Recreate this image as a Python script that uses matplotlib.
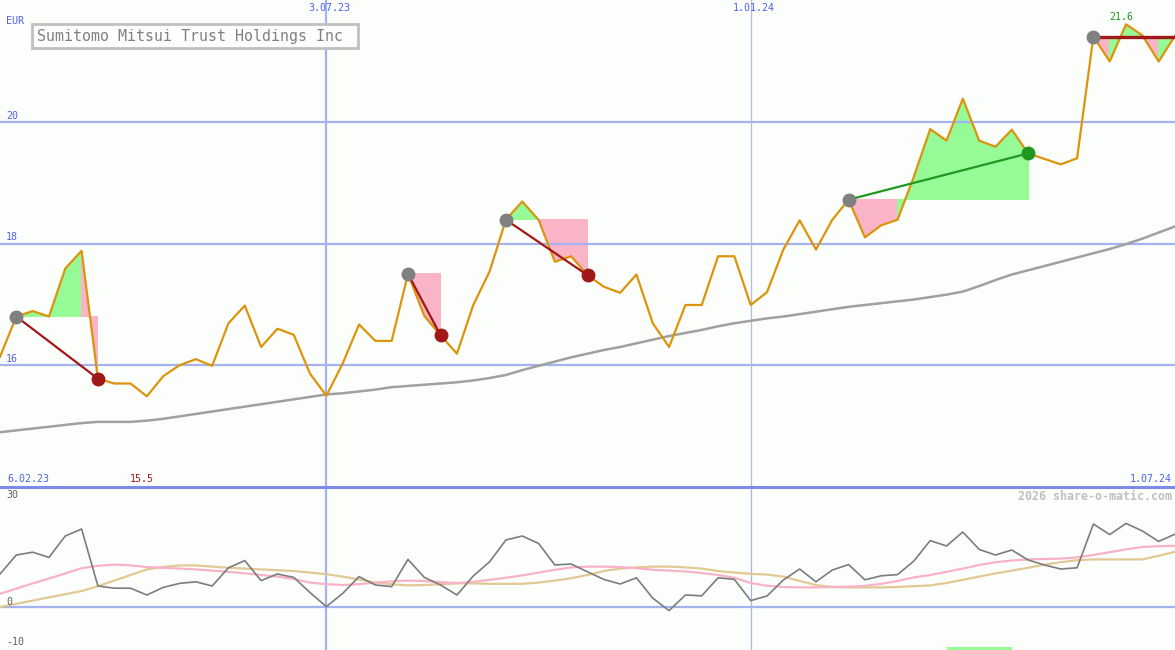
import matplotlib
matplotlib.use("Agg")
import matplotlib.pyplot as plt
from matplotlib.patches import Polygon, Rectangle

# ---------------- data ----------------
title = "Sumitomo Mitsui Trust Holdings Inc"
currency = "EUR"
start_label = "6.02.23"
end_label = "1.07.24"
vline_idx = [20, 46]
vline_labels = ["3.07.23", "1.01.24"]
price_ticks = [16, 18, 20]
osc_tick_labels = [30, 0, -10]
watermark = "2026 share-o-matic.com"

price = [16.14, 16.80, 16.89, 16.80, 17.59, 17.88, 15.78, 15.70, 15.70, 15.49,
         15.82, 16.00, 16.10, 15.99, 16.69, 16.98, 16.30, 16.60, 16.50, 15.86,
         15.50, 16.03, 16.67, 16.40, 16.40, 17.50, 16.81, 16.49, 16.19, 16.99,
         17.54, 18.39, 18.69, 18.39, 17.70, 17.79, 17.48, 17.29, 17.19, 17.49,
         16.69, 16.30, 16.99, 16.99, 17.79, 17.79, 16.99, 17.20, 17.90, 18.38,
         17.90, 18.39, 18.72, 18.10, 18.30, 18.39, 19.10, 19.88, 19.69, 20.38,
         19.69, 19.59, 19.87, 19.48, 19.39, 19.30, 19.40, 21.40, 20.99, 21.60,
         21.42, 20.99, 21.41]

ma_long = [14.90, 14.93, 14.96, 14.99, 15.02, 15.05, 15.07, 15.07, 15.07, 15.09,
           15.12, 15.16, 15.20, 15.24, 15.28, 15.32, 15.36, 15.40, 15.44, 15.48,
           15.52, 15.54, 15.57, 15.60, 15.64, 15.66, 15.68, 15.70, 15.72, 15.75,
           15.79, 15.84, 15.92, 15.99, 16.06, 16.13, 16.19, 16.25, 16.30, 16.36,
           16.42, 16.48, 16.53, 16.58, 16.64, 16.69, 16.73, 16.77, 16.80, 16.84,
           16.88, 16.92, 16.96, 16.99, 17.02, 17.05, 17.08, 17.12, 17.16, 17.21,
           17.30, 17.40, 17.49, 17.56, 17.63, 17.70, 17.77, 17.84, 17.91, 17.99,
           18.08, 18.18, 18.28]

osc = [8.25, 13.0, 13.7, 12.4, 17.75, 19.5, 5.25, 4.7, 4.7, 3.0,
       4.9, 5.9, 6.3, 5.25, 9.8, 11.6, 6.6, 8.25, 7.4, 3.6,
       0.1, 3.4, 7.6, 5.5, 5.1, 11.9, 7.4, 5.5, 3.0, 7.75,
       11.3, 16.75, 17.75, 15.9, 10.5, 10.75, 8.8, 6.9, 5.75, 7.3,
       2.2, -0.9, 3.0, 2.8, 7.3, 6.9, 1.6, 2.75, 6.75, 9.5,
       6.3, 9.25, 10.6, 6.8, 7.8, 8.1, 11.5, 16.6, 15.25, 18.75,
       14.4, 13.0, 14.25, 11.75, 10.5, 9.5, 9.8, 20.75, 18.1, 20.9,
       19.0, 16.4, 18.2]

osc_avg_fast = [3.3, 4.6, 5.9, 7.1, 8.4, 9.7, 10.3, 10.6, 10.4, 10.0,
                9.8, 9.6, 9.4, 9.1, 8.8, 8.4, 8.0, 7.6, 7.0, 6.1,
                5.7, 5.5, 5.7, 6.1, 6.4, 6.6, 6.5, 6.2, 6.0, 6.3,
                6.8, 7.3, 7.9, 8.6, 9.3, 9.9, 10.1, 10.1, 10.0, 9.7,
                9.3, 9.1, 8.9, 8.5, 8.0, 7.3, 6.0, 5.3, 5.0, 4.9,
                4.9, 5.0, 5.1, 5.3, 5.8, 6.5, 7.4, 8.0, 8.8, 9.6,
                10.5, 11.2, 11.6, 11.9, 12.0, 12.1, 12.4, 13.0, 13.7, 14.4,
                15.0, 15.2, 15.3]

osc_avg_slow = [0.0, 0.8, 1.6, 2.4, 3.2, 4.0, 5.2, 6.6, 8.0, 9.4,
                10.0, 10.4, 10.4, 10.1, 9.8, 9.6, 9.4, 9.2, 9.0, 8.6,
                8.2, 7.6, 6.9, 6.1, 5.7, 5.4, 5.5, 5.7, 5.9, 5.9,
                5.8, 5.8, 5.8, 6.1, 6.6, 7.2, 8.0, 9.0, 9.6, 9.9,
                10.1, 10.1, 9.9, 9.6, 9.0, 8.6, 8.3, 8.1, 7.6, 6.5,
                5.5, 5.0, 4.9, 4.9, 4.9, 5.0, 5.2, 5.4, 6.0, 6.8,
                7.6, 8.4, 9.1, 9.8, 10.6, 11.2, 11.7, 11.9, 11.9, 11.9,
                11.9, 12.8, 13.8]

entry_idx = [1, 25, 31, 52, 67]
exit_idx = [6, 27, 36, 63, 72]
trade_open = [False, False, False, False, True]
signal_start = 58
signal_end = 62

# ---------------- style ----------------
W, H = 1175, 650
SPLIT = 487
BG = "#fcfefc"
BLUE_TXT = "#5060f0"
GRID = "#a4b2f0"
SEP = "#7c8ae8"
ORANGE = "#dc940c"
GRAYMA = "#a0a0a0"
GREEN_FILL = "#96fa96"
PINK_FILL = "#fab4c8"
LOSS = "#a01818"
WIN = "#209820"
MONO = "DejaVu Sans Mono"

fig = plt.figure(figsize=(W / 100, H / 100), dpi=100)
fig.patch.set_facecolor(BG)

ax = fig.add_axes([0, (H - SPLIT) / H, 1, SPLIT / H])
ax2 = fig.add_axes([0, 0, 1, (H - SPLIT) / H])
for a in (ax, ax2):
    a.set_facecolor(BG)
    a.set_axis_off()
    a.set_xlim(0, 72)

ax.set_ylim(14.0, 22.0)
ax2.set_ylim(-10.75, 30)

x = list(range(len(price)))

# grid lines
for v in price_ticks:
    ax.axhline(v, color=GRID, lw=1.6, zorder=2)
    ax.annotate(str(v), xy=(0, v), xytext=(6, 6), textcoords="offset pixels",
                ha="left", va="center", color=BLUE_TXT, fontsize=7.2, family=MONO)
ax.axvline(vline_idx[0], color=GRID, lw=1.6, zorder=2)
ax.axvline(vline_idx[1], color="#b4bcd8", lw=0.9, zorder=2)
ax2.axvline(vline_idx[0], color=GRID, lw=1.6, zorder=2)
ax2.axvline(vline_idx[1], color="#a8b4f0", lw=0.9, zorder=2)
ax2.axhline(0, color=GRID, lw=1.6, zorder=2)

# trade fills
for e, xx in zip(entry_idx, exit_idx):
    ep = price[e]
    for i in range(e, xx):
        col = GREEN_FILL if price[i + 1] >= ep else PINK_FILL
        poly = Polygon([(i, ep), (i, price[i]), (i + 1, price[i + 1]), (i + 1, ep)],
                       closed=True, facecolor=col, edgecolor="none",
                       antialiased=False, zorder=1)
        ax.add_patch(poly)

# lines
ax.plot(x, ma_long, color=GRAYMA, lw=1.8, zorder=3)
ax.plot(x, price, color=ORANGE, lw=1.6, zorder=4)

# trade lines and dots
for e, xx, op in zip(entry_idx, exit_idx, trade_open):
    ep, xp = price[e], price[xx]
    if op:
        ax.plot([e, xx], [ep, ep], color=LOSS, lw=2.4, zorder=5, solid_capstyle="butt")
        ax.plot([e], [ep], "o", color="#808080", ms=9, zorder=6)
        continue
    col = WIN if xp > ep else LOSS
    ax.plot([e, xx], [ep, xp], color=col, lw=1.6, zorder=5)
    ax.plot([e], [ep], "o", color="#808080", ms=9, zorder=6)
    ax.plot([xx], [xp], "o", color=col, ms=9, zorder=6)

# min / max labels
imax = max(range(len(price)), key=lambda i: price[i])
imin = min(range(len(price)), key=lambda i: price[i])
ax.annotate(f"{price[imax]:.1f}", xy=(imax, price[imax]), xytext=(-5, 2),
            textcoords="offset pixels", ha="center", va="bottom",
            color=WIN, fontsize=7.2, family=MONO, zorder=7)
ax.annotate(f"{price[imin]:.1f}", xy=(imin, 14.0), xytext=(-5, 3),
            textcoords="offset pixels", ha="center", va="bottom",
            color=LOSS, fontsize=7.2, family=MONO)

# lower panel
ax2.plot(x, osc_avg_slow, color="#e2c994", lw=1.6, zorder=3)
ax2.plot(x, osc_avg_fast, color="#f8b2c8", lw=1.6, zorder=3)
ax2.plot(x, osc, color="#7c7c7c", lw=1.2, zorder=4)
ax2.add_patch(Rectangle((signal_start, -10.75), signal_end - signal_start, 0.85,
                        facecolor=GREEN_FILL, edgecolor="none", zorder=2))
label_offsets = {30: -8, 0: 5, -10: 5}
for v in osc_tick_labels:
    ax2.annotate(str(v), xy=(0, v), xytext=(6, label_offsets[v]), textcoords="offset pixels",
                 ha="left", va="center", color="#606060", fontsize=7.2, family=MONO)


def fpx(px, py):
    return px / W, 1 - py / H


# separator line
fig.add_artist(plt.Line2D([0, 1], [1 - SPLIT / H, 1 - SPLIT / H],
                          transform=fig.transFigure, color=SEP, lw=2.2, zorder=10))

# date labels
for idx, lab in zip(vline_idx, vline_labels):
    ax.annotate(lab, xy=(idx, 22.0), xytext=(3, -3), textcoords="offset pixels",
                ha="center", va="top", color=BLUE_TXT, fontsize=7.2, family=MONO)
fig.text(*fpx(7, 479), start_label, ha="left", va="center", color=BLUE_TXT,
         fontsize=7.2, family=MONO)
fig.text(*fpx(1172, 479), end_label, ha="right", va="center", color=BLUE_TXT,
         fontsize=7.2, family=MONO)
fig.text(*fpx(6, 21), currency, ha="left", va="center", color=BLUE_TXT,
         fontsize=7.2, family=MONO)
fig.text(*fpx(1172, 496), watermark, ha="right", va="center", color="#c0c0c0",
         fontsize=8.4, family=MONO, weight="bold")

# title box
bx0, by0 = fpx(32, 48)
bx1, by1 = fpx(358, 24)
fig.add_artist(Rectangle((bx0, by0), bx1 - bx0, by1 - by0, transform=fig.transFigure,
                         facecolor=BG, edgecolor="#c0c0c0", lw=2, zorder=10))
fig.text(*fpx(37, 36.5), title, ha="left", va="center", color="#808080",
         fontsize=10.8, family=MONO, zorder=11)

fig.savefig("out.png", dpi=100, facecolor=BG)
